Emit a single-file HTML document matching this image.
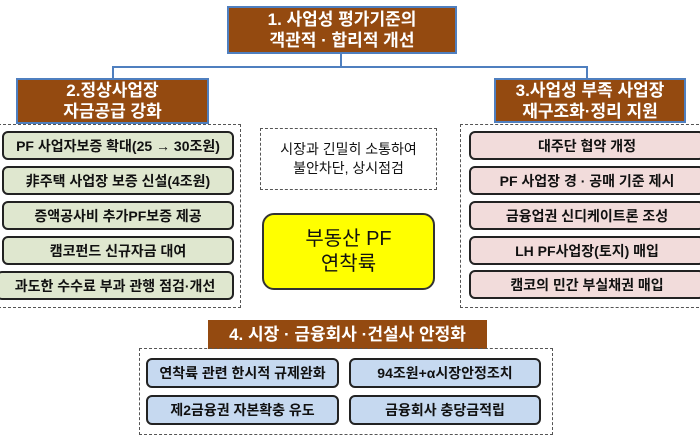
<!DOCTYPE html>
<html><head><meta charset="utf-8"><style>
body{margin:0;width:700px;height:440px;background:#fff;position:relative;overflow:hidden;font-family:"Liberation Sans","Noto Sans CJK KR",sans-serif}
div{box-sizing:border-box;position:absolute}
.hd{background:#944a10;border:2px solid #4f7fbf;color:#fff;text-align:center;font-weight:bold;font-size:17px;line-height:21px;display:flex;align-items:center;justify-content:center;flex-direction:column}
.dash{border:1.5px dashed #555}
.it{border:2px solid #222;border-radius:6px;text-align:center;font-weight:bold;font-size:14px;display:flex;align-items:center;justify-content:center;color:#111;white-space:nowrap}
.g{background:#dfe7cf}.p{background:#f2dcdb}.b{background:#c6d9f0}
.ln{background:#4f7fbf}
</style></head><body>
<div class="ln" style="left:340px;top:52px;width:2px;height:16px"></div>
<div class="ln" style="left:112px;top:66px;width:476px;height:2px"></div>
<div class="ln" style="left:112px;top:66px;width:2px;height:14px"></div>
<div class="ln" style="left:586px;top:66px;width:2px;height:14px"></div>
<div class="hd" style="left:227px;top:6px;width:230px;height:48px"><span>1. 사업성 평가기준의</span><span>객관적 · 합리적 개선</span></div>
<div class="hd" style="left:16px;top:78px;width:193px;height:46px"><span>2.정상사업장</span><span>자금공급 강화</span></div>
<div class="hd" style="left:494px;top:78px;width:192px;height:45px"><span>3.사업성 부족 사업장</span><span>재구조화·정리 지원</span></div>
<div class="dash" style="left:-2px;top:124px;width:243px;height:184px"></div>
<div class="it g" style="left:2px;top:131px;width:232px;height:29px">PF 사업자보증 확대(25 → 30조원)</div>
<div class="it g" style="left:2px;top:166px;width:232px;height:29px">非주택 사업장 보증 신설(4조원)</div>
<div class="it g" style="left:2px;top:201px;width:232px;height:29px">증액공사비 추가PF보증 제공</div>
<div class="it g" style="left:2px;top:236px;width:232px;height:29px">캠코펀드 신규자금 대여</div>
<div class="it g" style="left:-4px;top:271px;width:238px;height:29px">과도한 수수료 부과 관행 점검·개선</div>
<div class="dash" style="left:260px;top:128px;width:177px;height:62px;display:flex;flex-direction:column;align-items:center;justify-content:center;font-size:14px;line-height:19px;color:#111"><span>시장과 긴밀히 소통하여</span><span>불안차단, 상시점검</span></div>
<div style="left:262px;top:213px;width:173px;height:77px;background:#ffff00;border:2px solid #333;border-radius:12px;display:flex;flex-direction:column;align-items:center;justify-content:center;font-size:20px;line-height:25px;color:#111"><span>부동산 PF</span><span>연착륙</span></div>
<div class="dash" style="left:460px;top:124px;width:244px;height:184px"></div>
<div class="it p" style="left:469px;top:131px;width:236px;height:29px">대주단 협약 개정</div>
<div class="it p" style="left:469px;top:166px;width:236px;height:29px">PF 사업장 경 · 공매 기준 제시</div>
<div class="it p" style="left:469px;top:201px;width:236px;height:29px">금융업권 신디케이트론 조성</div>
<div class="it p" style="left:469px;top:236px;width:236px;height:29px">LH PF사업장(토지) 매입</div>
<div class="it p" style="left:469px;top:270px;width:236px;height:29px">캠코의 민간 부실채권 매입</div>
<div class="hd" style="left:208px;top:320px;width:279px;height:29px;border-color:#944a10"><span>4. 시장 · 금융회사 ·건설사 안정화</span></div>
<div class="dash" style="left:139px;top:348px;width:414px;height:87px"></div>
<div class="it b" style="left:146px;top:358px;width:193px;height:30px">연착륙 관련 한시적 규제완화</div>
<div class="it b" style="left:146px;top:395px;width:193px;height:30px">제2금융권 자본확충 유도</div>
<div class="it b" style="left:349px;top:358px;width:192px;height:30px">94조원+α시장안정조치</div>
<div class="it b" style="left:349px;top:395px;width:192px;height:30px">금융회사 충당금적립</div>
</body></html>
